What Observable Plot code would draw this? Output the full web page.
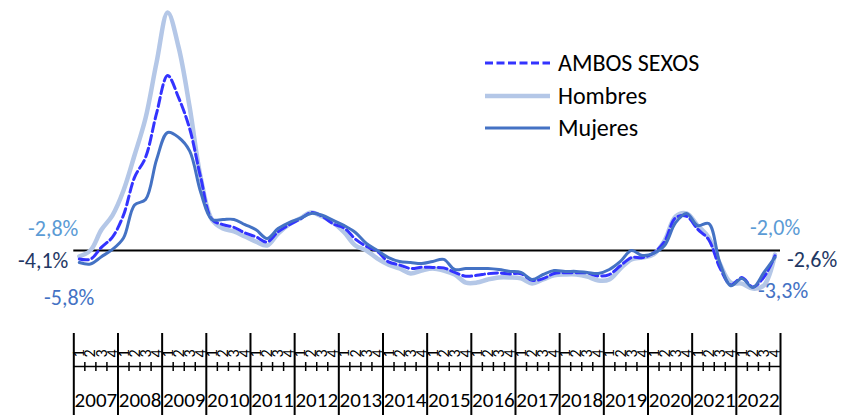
<!DOCTYPE html>
<html><head><meta charset="utf-8">
<script src="https://cdn.jsdelivr.net/npm/d3@7"></script>
<script src="https://cdn.jsdelivr.net/npm/@observablehq/plot@0.6"></script>
<style>
body{margin:0;background:#fff;}
#wrap{position:relative;width:854px;height:415px;font-family:Carlito,Calibri,Lato,sans-serif;}
#legend{position:absolute;left:485px;top:47px;}
.row{display:flex;align-items:center;height:32.5px;}
.row svg{width:65px;height:10px;margin-right:8px;}
.row span{font-size:24px;color:#000;line-height:1;}
</style></head><body>
<div id="wrap"><div id="chart"></div><div id="legend"></div></div>
<script>
const years = [2007,2008,2009,2010,2011,2012,2013,2014,2015,2016,2017,2018,2019,2020,2021,2022];
const quarterLabels = ["1","2","3","4"];
const seriesNames = ["AMBOS SEXOS","Hombres","Mujeres"];
// Year-on-year % change by quarter (2007T1 ... 2022T4)
const ambos = [
 -4.1,-4.2,1.5,6.5,  17.1,35.3,45.0,66.4,  84.5,73.7,58.7,35.1,  15.1,12.5,11.2,8.5,
 6.6,4.1,9.0,12.4,   15.2,18.3,16.5,12.8,  10.8,5.5,2.0,-0.5,    -5.5,-7.0,-8.7,-8.1,
 -8.2,-8.4,-10.6,-12.4, -12.0,-11.2,-10.9,-11.3, -11.2,-14.4,-13.6,-11.1, -10.8,-10.8,-10.9,-12.3,
 -11.6,-7.4,-3.4,-3.4, -1.2,4.3,15.8,16.5, 10.3,5.2,-8.2,-16.6, -13.1,-17.6,-12.8,-2.6];
const hombres = [
 -2.8,0.0,10.0,17.0,  29.0,46.0,64.0,91.0,  115.0,98.0,69.0,35.0,  15.0,10.6,9.2,6.8,
 4.3,2.4,8.2,12.6,    15.5,18.4,16.4,13.5,  8.7,2.4,0.0,-3.9,     -6.8,-8.7,-11.1,-9.7,
 -8.7,-9.7,-11.6,-15.5, -15.5,-14.0,-13.0,-13.0, -13.5,-15.9,-14.0,-12.0, -11.6,-11.6,-12.6,-14.5,
 -14.0,-8.7,-4.3,-3.4, -1.9,4.8,16.4,17.9, 12.0,6.3,-6.3,-15.5, -16.0,-18.4,-16.9,-2.0];
const mujeres = [
 -5.8,-6.5,-3.0,0.5,  6.0,22.0,24.6,44.0,  57.0,54.6,48.0,28.0,  15.0,15.0,15.0,12.5,
 10.0,5.8,10.6,13.5,  15.5,17.9,17.0,14.5,  12.0,8.7,3.4,0.0,     -3.4,-5.3,-5.8,-6.3,
 -5.3,-4.3,-9.2,-8.7, -8.7,-8.7,-9.2,-10.1, -10.6,-14.0,-11.6,-9.7, -10.1,-10.1,-10.6,-11.1,
 -9.2,-5.3,0.0,-2.4, -1.4,2.4,13.5,17.9, 12.0,13.0,-5.8,-17.0, -13.5,-17.9,-10.6,-3.3];

const n = ambos.length;
const idx = d3.range(n);
const yMin = -56.04, yMax = 120.77;
const rows = vals => vals.map((v, i) => ({x: i + 0.5, y: v}));
const yearBounds = d3.range(0, n + 1, 4);
const quarterBounds = d3.range(1, n).filter(i => i % 4 !== 0);
const fmt = v => v.toFixed(1).replace(".", ",") + "%";
const font = "Carlito, Calibri, Lato, sans-serif";

const C_AMB = "#3333ff", C_HOM = "#b4c7e7", C_MUJ = "#4472c4";
const L_AMB = "#1f3864", L_HOM = "#5b9bd5", L_MUJ = "#4472c4";

const endLabels = [
  {x: 0.5, y: ambos[0], t: fmt(ambos[0]), c: L_AMB, dx: -11, dy: 2, a: "end"},
  {x: 0.5, y: hombres[0], t: fmt(hombres[0]), c: L_HOM, dx: -1, dy: -27, a: "end"},
  {x: 0.5, y: mujeres[0], t: fmt(mujeres[0]), c: L_MUJ, dx: 15, dy: 35, a: "end"},
  {x: n - 0.5, y: ambos[n-1], t: fmt(ambos[n-1]), c: L_AMB, dx: 12, dy: 4, a: "start"},
  {x: n - 0.5, y: hombres[n-1], t: fmt(hombres[n-1]), c: L_HOM, dx: -25, dy: -27, a: "start"},
  {x: n - 0.5, y: mujeres[n-1], t: fmt(mujeres[n-1]), c: L_MUJ, dx: -17, dy: 34, a: "start"}
];

const labelMarks = endLabels.map(d => Plot.text([d], {x: "x", y: "y", text: "t", fill: d.c, dx: d.dx, dy: d.dy, textAnchor: d.a, fontSize: 22}));

const chart = Plot.plot({
  width: 854, height: 415,
  marginLeft: 73.3, marginRight: 74, marginTop: 0, marginBottom: 49,
  style: {fontFamily: font, background: "#fff", overflow: "visible"},
  x: {domain: [0, n], axis: null},
  y: {domain: [yMin, yMax], axis: null},
  marks: [
    Plot.ruleY([0], {stroke: "#000", strokeWidth: 2}),
    Plot.line(rows(hombres), {x: "x", y: "y", stroke: C_HOM, strokeWidth: 4.5, curve: "catmull-rom"}),
    Plot.line(rows(ambos), {x: "x", y: "y", stroke: C_AMB, strokeWidth: 3, strokeDasharray: "9,4", curve: "catmull-rom"}),
    Plot.line(rows(mujeres), {x: "x", y: "y", stroke: C_MUJ, strokeWidth: 3, curve: "catmull-rom"}),
    ...labelMarks,
    // bottom category axis
    Plot.ruleY([yMin], {stroke: "#000", strokeWidth: 1.5}),
    Plot.ruleX(quarterBounds, {x: d => d, y1: () => yMin, y2: () => yMin, insetTop: -4, insetBottom: -5, stroke: "#000", strokeWidth: 1.5}),
    Plot.ruleX(yearBounds, {x: d => d, y1: () => yMin, y2: () => yMin, insetTop: -33, insetBottom: -49, stroke: "#000", strokeWidth: 2}),
    Plot.text(idx, {x: i => i + 0.5, y: () => yMin, text: i => quarterLabels[i % 4], rotate: -90, dy: -13, fontSize: 16, fill: "#000"}),
    Plot.text(years, {x: (d, i) => i * 4 + 2, y: () => yMin, text: d => String(d), dy: 34, fontSize: 21, fill: "#000"})
  ]
});
document.getElementById("chart").appendChild(chart);

const leg = document.getElementById("legend");
const legStyles = [
  {c: C_AMB, w: 3, dash: "8,3.5"},
  {c: C_HOM, w: 4.5, dash: null},
  {c: C_MUJ, w: 3, dash: null}
];
seriesNames.forEach((name, k) => {
  const s = legStyles[k];
  const row = document.createElement("div");
  row.className = "row";
  row.innerHTML = `<svg viewBox="0 0 65 10"><line x1="0" x2="65" y1="5" y2="5" stroke="${s.c}" stroke-width="${s.w}" ${s.dash ? `stroke-dasharray="${s.dash}"` : ""}/></svg><span>${name}</span>`;
  leg.appendChild(row);
});
</script>
</body></html>
